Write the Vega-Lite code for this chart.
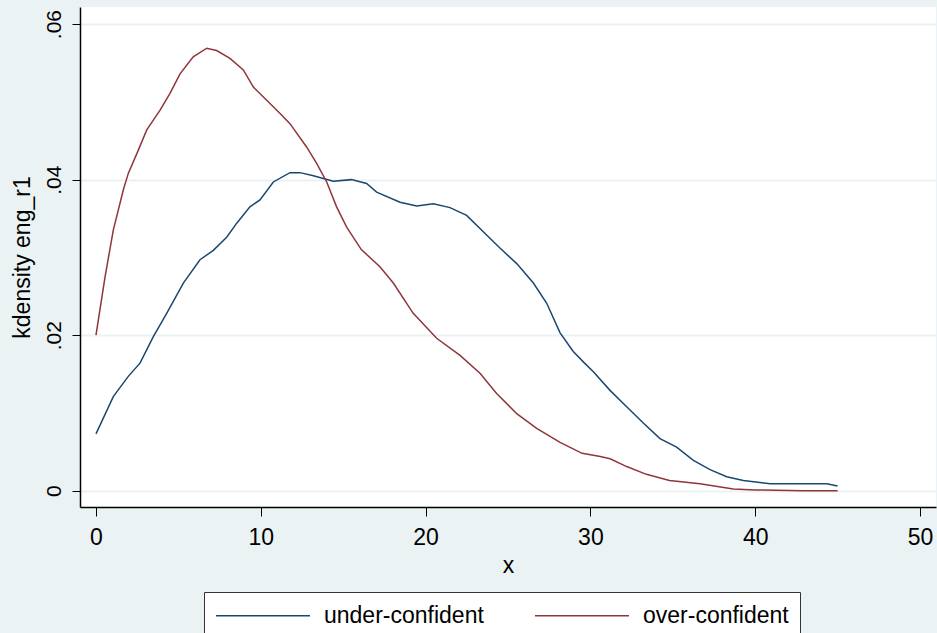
{
  "$schema": "https://vega.github.io/schema/vega-lite/v6.json",
  "width": 856,
  "height": 500,
  "autosize": {"type": "none"},
  "padding": {"left": 80, "top": 7, "right": 1, "bottom": 126},
  "background": "#eaf2f3",
  "config": {
    "font": "Liberation Sans",
    "view": {"fill": "white", "stroke": null},
    "axis": {"labelColor": "#000000", "titleColor": "#000000", "domainColor": "#000000", "tickColor": "#000000", "titleFontWeight": "normal", "labelFont": "Liberation Sans", "titleFont": "Liberation Sans"}
  },
  "data": {
    "values": [
      {"x": 0, "density": 0.0073, "group": "under-confident"},
      {"x": 1.05, "density": 0.0121, "group": "under-confident"},
      {"x": 1.96, "density": 0.0147, "group": "under-confident"},
      {"x": 2.67, "density": 0.0164, "group": "under-confident"},
      {"x": 3.48, "density": 0.0198, "group": "under-confident"},
      {"x": 4.29, "density": 0.0228, "group": "under-confident"},
      {"x": 5.3, "density": 0.0267, "group": "under-confident"},
      {"x": 6.31, "density": 0.0297, "group": "under-confident"},
      {"x": 7.12, "density": 0.0309, "group": "under-confident"},
      {"x": 7.93, "density": 0.0326, "group": "under-confident"},
      {"x": 8.54, "density": 0.0344, "group": "under-confident"},
      {"x": 9.34, "density": 0.0365, "group": "under-confident"},
      {"x": 9.95, "density": 0.0374, "group": "under-confident"},
      {"x": 10.76, "density": 0.0397, "group": "under-confident"},
      {"x": 11.77, "density": 0.0409, "group": "under-confident"},
      {"x": 12.38, "density": 0.0409, "group": "under-confident"},
      {"x": 13.19, "density": 0.0405, "group": "under-confident"},
      {"x": 14.4, "density": 0.0398, "group": "under-confident"},
      {"x": 15.5, "density": 0.04, "group": "under-confident"},
      {"x": 16.42, "density": 0.0395, "group": "under-confident"},
      {"x": 17.03, "density": 0.0384, "group": "under-confident"},
      {"x": 18.45, "density": 0.0371, "group": "under-confident"},
      {"x": 19.46, "density": 0.0366, "group": "under-confident"},
      {"x": 20.47, "density": 0.0369, "group": "under-confident"},
      {"x": 21.48, "density": 0.0364, "group": "under-confident"},
      {"x": 22.49, "density": 0.0354, "group": "under-confident"},
      {"x": 23.5, "density": 0.0333, "group": "under-confident"},
      {"x": 24.51, "density": 0.0312, "group": "under-confident"},
      {"x": 25.53, "density": 0.0292, "group": "under-confident"},
      {"x": 26.54, "density": 0.0267, "group": "under-confident"},
      {"x": 27.35, "density": 0.0241, "group": "under-confident"},
      {"x": 28.16, "density": 0.0203, "group": "under-confident"},
      {"x": 28.96, "density": 0.0179, "group": "under-confident"},
      {"x": 29.6, "density": 0.0165, "group": "under-confident"},
      {"x": 30.18, "density": 0.0153, "group": "under-confident"},
      {"x": 31.19, "density": 0.0129, "group": "under-confident"},
      {"x": 32.2, "density": 0.0108, "group": "under-confident"},
      {"x": 33.21, "density": 0.0087, "group": "under-confident"},
      {"x": 34.22, "density": 0.0067, "group": "under-confident"},
      {"x": 35.23, "density": 0.0056, "group": "under-confident"},
      {"x": 36.25, "density": 0.0039, "group": "under-confident"},
      {"x": 37.26, "density": 0.0027, "group": "under-confident"},
      {"x": 38.27, "density": 0.0018, "group": "under-confident"},
      {"x": 39.28, "density": 0.0013, "group": "under-confident"},
      {"x": 40.9, "density": 0.0009, "group": "under-confident"},
      {"x": 44.34, "density": 0.0009, "group": "under-confident"},
      {"x": 45, "density": 0.0006, "group": "under-confident"},
      {"x": 0, "density": 0.02, "group": "over-confident"},
      {"x": 0.55, "density": 0.0275, "group": "over-confident"},
      {"x": 1.05, "density": 0.0335, "group": "over-confident"},
      {"x": 1.66, "density": 0.0387, "group": "over-confident"},
      {"x": 1.96, "density": 0.0408, "group": "over-confident"},
      {"x": 2.57, "density": 0.0438, "group": "over-confident"},
      {"x": 3.08, "density": 0.0464, "group": "over-confident"},
      {"x": 3.88, "density": 0.0489, "group": "over-confident"},
      {"x": 4.49, "density": 0.0511, "group": "over-confident"},
      {"x": 5.1, "density": 0.0536, "group": "over-confident"},
      {"x": 5.9, "density": 0.0558, "group": "over-confident"},
      {"x": 6.72, "density": 0.0569, "group": "over-confident"},
      {"x": 7.32, "density": 0.0566, "group": "over-confident"},
      {"x": 8.13, "density": 0.0556, "group": "over-confident"},
      {"x": 8.94, "density": 0.0541, "group": "over-confident"},
      {"x": 9.55, "density": 0.0519, "group": "over-confident"},
      {"x": 10.36, "density": 0.0502, "group": "over-confident"},
      {"x": 11.17, "density": 0.0485, "group": "over-confident"},
      {"x": 11.77, "density": 0.0472, "group": "over-confident"},
      {"x": 12.78, "density": 0.0442, "group": "over-confident"},
      {"x": 13.39, "density": 0.0421, "group": "over-confident"},
      {"x": 14.0, "density": 0.0397, "group": "over-confident"},
      {"x": 14.6, "density": 0.0365, "group": "over-confident"},
      {"x": 15.21, "density": 0.0339, "group": "over-confident"},
      {"x": 16.1, "density": 0.031, "group": "over-confident"},
      {"x": 17.23, "density": 0.0288, "group": "over-confident"},
      {"x": 18.04, "density": 0.0267, "group": "over-confident"},
      {"x": 19.25, "density": 0.0228, "group": "over-confident"},
      {"x": 20.67, "density": 0.0196, "group": "over-confident"},
      {"x": 22.09, "density": 0.0174, "group": "over-confident"},
      {"x": 23.3, "density": 0.0151, "group": "over-confident"},
      {"x": 24.31, "density": 0.0125, "group": "over-confident"},
      {"x": 25.53, "density": 0.0099, "group": "over-confident"},
      {"x": 26.74, "density": 0.008, "group": "over-confident"},
      {"x": 28.16, "density": 0.0062, "group": "over-confident"},
      {"x": 29.5, "density": 0.0048, "group": "over-confident"},
      {"x": 30.6, "density": 0.0044, "group": "over-confident"},
      {"x": 31.2, "density": 0.0041, "group": "over-confident"},
      {"x": 32.2, "density": 0.0031, "group": "over-confident"},
      {"x": 33.4, "density": 0.0021, "group": "over-confident"},
      {"x": 34.8, "density": 0.0013, "group": "over-confident"},
      {"x": 36.65, "density": 0.0009, "group": "over-confident"},
      {"x": 38.67, "density": 0.0002, "group": "over-confident"},
      {"x": 40.0, "density": 0.0001, "group": "over-confident"},
      {"x": 42.9, "density": 0.0, "group": "over-confident"},
      {"x": 45, "density": 0.0, "group": "over-confident"}
    ]
  },
  "mark": {"type": "line", "strokeWidth": 1.5, "clip": true},
  "encoding": {
    "x": {
      "field": "x",
      "type": "quantitative",
      "scale": {"domain": [-0.97, 50.97], "nice": false, "zero": false},
      "axis": {
        "values": [0, 10, 20, 30, 40, 50],
        "grid": false,
        "tickSize": 9,
        "tickWidth": 1,
        "domainWidth": 1.5,
        "labelFontSize": 23,
        "labelPadding": 10,
        "title": "x",
        "titleFontSize": 23,
        "titleBaseline": "middle",
        "titleY": 58,
        "labelFlush": false
      }
    },
    "y": {
      "field": "density",
      "type": "quantitative",
      "scale": {"domain": [-0.0021, 0.0622], "nice": false, "zero": false},
      "axis": {
        "values": [0, 0.02, 0.04, 0.06],
        "labelExpr": "datum.value == 0 ? '0' : replace(format(datum.value, '.2f'), '0.', '.')",
        "grid": true,
        "gridColor": "#eaf2f3",
        "gridWidth": 2,
        "tickSize": 8,
        "tickWidth": 1,
        "domainWidth": 1.5,
        "labelFontSize": 21,
        "labelAngle": -90,
        "labelAlign": "center",
        "labelBaseline": "bottom",
        "labelPadding": 8,
        "labelFlush": false,
        "title": "kdensity eng_r1",
        "titleFontSize": 23,
        "titleAngle": -90,
        "titleAlign": "center",
        "titleBaseline": "middle",
        "titleX": -58,
        "titleY": 250
      }
    },
    "color": {
      "field": "group",
      "type": "nominal",
      "scale": {"domain": ["under-confident", "over-confident"], "range": ["#1a476f", "#90353b"]},
      "legend": {
        "title": null,
        "orient": "none",
        "legendX": 124,
        "legendY": 585,
        "direction": "horizontal",
        "symbolType": "M-1,0L7.17,0",
        "symbolSize": 529,
        "symbolStrokeWidth": 1.5,
        "symbolFillColor": "transparent",
        "labelFontSize": 23,
        "labelFont": "Liberation Sans",
        "labelColor": "#000000",
        "labelOffset": 84,
        "columnPadding": 48,
        "padding": 11,
        "strokeColor": "#333333",
        "fillColor": "#ffffff",
        "labelLimit": 400
      }
    }
  }
}
